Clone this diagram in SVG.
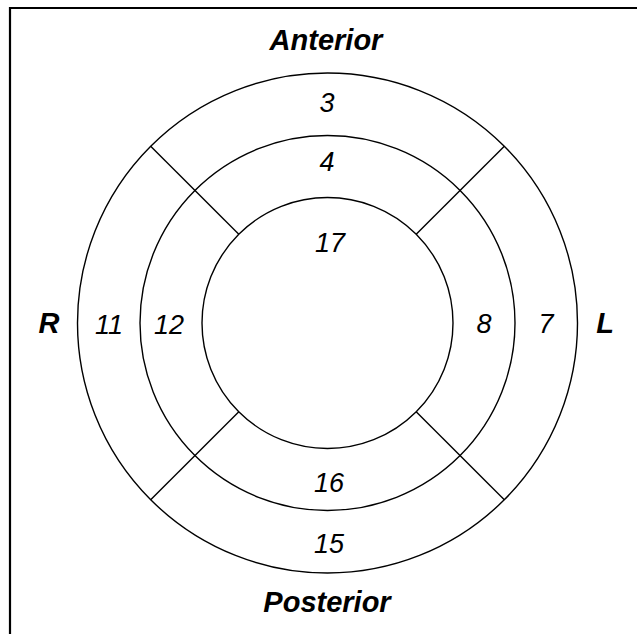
<svg xmlns="http://www.w3.org/2000/svg" width="637" height="634" viewBox="0 0 637 634">
<style>
.ring{fill:none;stroke:#000;stroke-width:1.4}
.div{stroke:#000;stroke-width:1.4}
.num{font-family:"Liberation Sans",Arial,sans-serif;font-style:italic;font-size:27px;text-anchor:middle;fill:#000}
.lbl{font-family:"Liberation Sans",Arial,sans-serif;font-style:italic;font-weight:bold;font-size:29px;text-anchor:middle;fill:#000}
</style>
<rect width="637" height="634" fill="#fff"/>
<path d="M10,634 V8 H637" fill="none" stroke="#000" stroke-width="2.2"/>
<g id="rings">
<circle class="ring" cx="327.5" cy="323" r="250"/>
<circle class="ring" cx="327.5" cy="323" r="187.5"/>
<circle class="ring" cx="327.5" cy="323" r="125.5"/>
</g>
<g id="connectors">
<line class="div" x1="150.7" y1="146.2" x2="238.8" y2="234.3"/>
<line class="div" x1="504.3" y1="146.2" x2="416.2" y2="234.3"/>
<line class="div" x1="150.7" y1="499.8" x2="238.8" y2="411.7"/>
<line class="div" x1="504.3" y1="499.8" x2="416.2" y2="411.7"/>
</g>
<g id="anterior"><text class="lbl" x="326" y="50">Anterior</text></g>
<g id="posterior"><text class="lbl" x="327" y="612">Posterior</text></g>
<g id="R"><text class="lbl" x="49" y="333">R</text></g>
<g id="L"><text class="lbl" x="605" y="333">L</text></g>
<g id="s3"><text class="num" x="327" y="112">3</text></g>
<g id="s4"><text class="num" x="327" y="171">4</text></g>
<g id="s17"><text class="num" x="330" y="252">17</text></g>
<g id="s11"><text class="num" x="109" y="334">11</text></g>
<g id="s12"><text class="num" x="169" y="334">12</text></g>
<g id="s8"><text class="num" x="484" y="333">8</text></g>
<g id="s7"><text class="num" x="546" y="333">7</text></g>
<g id="s16"><text class="num" x="329" y="492">16</text></g>
<g id="s15"><text class="num" x="329" y="553">15</text></g>
</svg>
